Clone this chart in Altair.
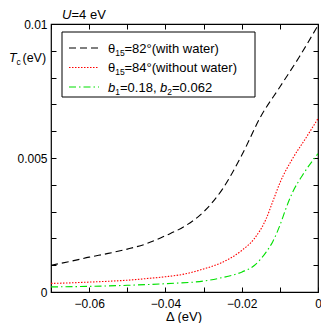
import altair as alt
import pandas as pd

FONT = "Liberation Sans"

# ---- data ----
delta_black = [-0.070, -0.065, -0.060, -0.055, -0.050, -0.045, -0.040, -0.035,
               -0.030, -0.025, -0.020, -0.015, -0.010, -0.005, 0.000]
tc_black = [0.00100, 0.00114, 0.00130, 0.00144, 0.00160, 0.00180, 0.00210, 0.00245,
            0.00299, 0.00385, 0.00510, 0.00655, 0.00765, 0.00875, 0.00995]

delta_red = [-0.070, -0.065, -0.060, -0.055, -0.050, -0.045, -0.040, -0.035, -0.030,
             -0.0255, -0.020, -0.0167, -0.0136, -0.0119, -0.0099, -0.0067, -0.0033, 0.000]
tc_red = [0.00032, 0.00034, 0.00037, 0.00040, 0.00044, 0.00050, 0.00057, 0.00067, 0.00086,
          0.00108, 0.00155, 0.00199, 0.00273, 0.00336, 0.00410, 0.00497, 0.00572, 0.00647]

delta_green = [-0.070, -0.060, -0.050, -0.040, -0.030, -0.0257, -0.0199, -0.0167, -0.0136,
               -0.0119, -0.0099, -0.0085, -0.0067, -0.0041, 0.000]
tc_green = [0.00019, 0.00021, 0.00025, 0.00031, 0.00041, 0.00052, 0.00075, 0.00099, 0.00149,
            0.00187, 0.00252, 0.00308, 0.00371, 0.00435, 0.00516]

x_tick_values = [-0.07, -0.06, -0.05, -0.04, -0.03, -0.02, -0.01, 0.0]
x_label_values = [-0.06, -0.04, -0.02, 0.0]
y_tick_values = [0.0, 0.001, 0.002, 0.003, 0.004, 0.005, 0.006, 0.007, 0.008, 0.009, 0.01]
y_label_values = [0.0, 0.005, 0.01]

W, H = 267, 268

df_black = pd.DataFrame({"delta": delta_black, "tc": tc_black})
df_red = pd.DataFrame({"delta": delta_red, "tc": tc_red})
df_green = pd.DataFrame({"delta": delta_green, "tc": tc_green})
one = pd.DataFrame({"k": [0]})

xs = alt.Scale(domain=[-0.07, 0], nice=False, zero=False)
ys = alt.Scale(domain=[0, 0.01], nice=False, zero=False)

label_style = dict(labelFont=FONT, labelFontSize=12, labelColor="black",
                   labelFlush=False, labelOverlap=False, ticks=False, tickSize=0,
                   domain=False, grid=False, title=None, format="~g")
tick_style = dict(labels=False, ticks=True, tickSize=5, tickColor="black", tickWidth=1,
                  domain=False, grid=False, title=None)


def series(df, color, dash, xaxis, yaxis):
    return alt.Chart(df).mark_line(color=color, strokeWidth=1.1, strokeDash=dash,
                                   interpolate="monotone", clip=True).encode(
        x=alt.X("delta:Q", scale=xs, axis=xaxis),
        y=alt.Y("tc:Q", scale=ys, axis=yaxis),
    )


black = series(df_black, "black", [7, 4],
               alt.Axis(orient="bottom", values=x_label_values, labelPadding=6, **label_style),
               alt.Axis(orient="left", values=y_label_values, labelPadding=4, **label_style))
red = series(df_red, "#ff0000", [1.5, 1.5],
             alt.Axis(orient="top", offset=-H, values=x_tick_values, **tick_style),
             alt.Axis(orient="right", offset=-W, values=y_tick_values, **tick_style))
green = series(df_green, "#00e000", [7, 3, 1.5, 3],
               alt.Axis(orient="bottom", offset=-H, values=x_tick_values, **tick_style),
               alt.Axis(orient="left", offset=-W, values=y_tick_values, **tick_style))


def txt(s, x, y, size=13, italic=False, align="left"):
    return alt.Chart(one).mark_text(
        text=s, font=FONT, fontSize=size, fontStyle="italic" if italic else "normal",
        align=align, baseline="alphabetic", color="black").encode(
        x=alt.value(x), y=alt.value(y))


def sample(color, dash, y):
    return alt.Chart(one).mark_rule(color=color, strokeDash=dash, strokeWidth=1.1).encode(
        x=alt.value(18), x2=alt.value(48), y=alt.value(y))


box = alt.Chart(one).mark_rect(fill="white", stroke="black", strokeWidth=1).encode(
    x=alt.value(11), x2=alt.value(204), y=alt.value(8), y2=alt.value(73))

r1, r2, r3 = 24, 43.5, 63
legend = [
    box,
    sample("black", [7, 4], r1),
    sample("#ff0000", [1.5, 1.5], r2),
    sample("#00e000", [7, 3, 1.5, 3], r3),
    txt("θ", 57, r1 + 4.5), txt("15", 64.2, r1 + 7.5, size=8.5), txt("=82°(with water)", 73.5, r1 + 4.5),
    txt("θ", 57, r2 + 4.5), txt("15", 64.2, r2 + 7.5, size=8.5), txt("=84°(without water)", 73.5, r2 + 4.5),
    txt("b", 57, r3 + 4.5, italic=True), txt("1", 64.2, r3 + 7.5, size=8.5), txt("=0.18,", 69, r3 + 4.5),
    txt("b", 109, r3 + 4.5, italic=True), txt("2", 116.2, r3 + 7.5, size=8.5), txt("=0.062", 121, r3 + 4.5),
]

titles = [
    txt("U", 11, -5.5, italic=True), txt("=4 eV", 20.5, -5.5),
    txt("T", -42, 38, size=12.5, italic=True), txt("c", -34.5, 41, size=8.5),
    txt("(eV)", -28.5, 38, size=12.5),
    txt("Δ (eV)", 133, 297, align="center"),
]

chart = alt.layer(black, red, green, *legend, *titles).resolve_axis(
    x="independent", y="independent"
).properties(
    width=W, height=H,
    autosize=alt.AutoSizeParams(type="none"),
    padding={"left": 43, "top": 16, "right": 3, "bottom": 31},
    background="white",
).configure_view(stroke="black", strokeWidth=1.2)

chart.save("out.html", embed_options={"renderer": "svg", "actions": False})
